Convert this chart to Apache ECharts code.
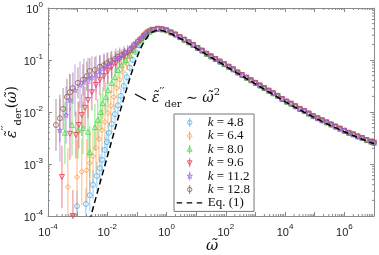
<!DOCTYPE html>
<html><head><meta charset="utf-8">
<script src="https://cdn.jsdelivr.net/npm/echarts@6/dist/echarts.min.js"></script>
<style>html,body{margin:0;padding:0;background:#fff}#c{width:379px;height:255px}</style>
</head><body><div id="c"></div>
<script>
// ---- data (log10 values) ----
const seriesNames = ['k = 4.8', 'k = 6.4', 'k = 8.0', 'k = 9.6', 'k = 11.2', 'k = 12.8'];
const eqName = 'Eq. (1)';

const wK48 = [-3.02,-2.72,-2.59,-2.48,-2.35,-2.25,-2.18,-2.08,-2.01,-1.95,-1.85,-1.74,-1.64,-1.54,-1.44,-1.34,-1.24,-1.14,-1.04,-0.94,-0.84,-0.74,-0.64,-0.54];
const eK48 = [-3.81,-3.77,-3.6,-3.4,-3.23,-3.08,-2.92,-2.73,-2.58,-2.4,-2.23,-2.04,-1.87,-1.69,-1.5,-1.33,-1.15,-1.0,-0.85,-0.72,-0.6,-0.52,-0.46,-0.42];
const dK48 = [0.3,0.3,0.3,0.28,0.28,0.26,0.25,0.25,0.22,0.2,0.2,0.18,0.16,0.14,0.12,0.1,0.08,0.06,0.05,0.04,0.03,0.02,0.02,0.02];

const wK64 = [-3.33,-3.02,-2.86,-2.69,-2.59,-2.48,-2.38,-2.28,-2.18,-2.08,-1.98,-1.88,-1.78,-1.68,-1.58,-1.47,-1.34,-1.24,-1.14,-1.04,-0.94,-0.84,-0.74,-0.64,-0.54];
const eK64 = [-3.44,-3.25,-3.15,-3.12,-2.98,-2.85,-2.69,-2.52,-2.35,-2.19,-2.02,-1.88,-1.71,-1.54,-1.38,-1.23,-1.08,-0.94,-0.82,-0.72,-0.62,-0.55,-0.48,-0.44,-0.41];
const dK64 = [0.75,0.7,0.65,0.6,0.55,0.5,0.5,0.45,0.4,0.35,0.3,0.3,0.25,0.2,0.18,0.15,0.12,0.1,0.08,0.06,0.05,0.04,0.03,0.02,0.02];

const wK80 = [-3.43,-3.19,-2.99,-2.82,-2.65,-2.59,-2.42,-2.32,-2.22,-2.15,-2.05,-1.98,-1.85,-1.74,-1.64,-1.51,-1.37,-1.24,-1.10,-0.97,-0.84,-0.70,-0.57];
const eK80 = [-2.4,-2.25,-2.35,-2.31,-2.38,-2.77,-2.29,-2.15,-2.0,-1.83,-1.71,-1.58,-1.44,-1.33,-1.19,-1.1,-1.0,-0.9,-0.81,-0.71,-0.62,-0.54,-0.46];
const dK80 = [0.6,0.6,0.55,0.5,0.5,0.5,0.45,0.4,0.35,0.3,0.28,0.25,0.2,0.18,0.15,0.12,0.1,0.08,0.06,0.05,0.04,0.03,0.02];

const wK96 = [-3.53,-3.26,-3.16,-3.06,-2.96,-2.86,-2.75,-2.65,-2.52,-2.38,-2.25,-2.11,-1.98,-1.85,-1.71,-1.58,-1.44,-1.31,-1.17,-1.04,-0.90,-0.77,-0.63];
const eK96 = [-3.25,-2.42,-4.0,-2.44,-2.25,-2.06,-1.92,-1.77,-1.62,-1.48,-1.38,-1.31,-1.21,-1.13,-1.06,-0.98,-0.93,-0.86,-0.78,-0.70,-0.62,-0.54,-0.47];
const dK96 = [0.6,0.5,0.5,0.45,0.45,0.4,0.4,0.35,0.35,0.3,0.3,0.28,0.25,0.22,0.2,0.18,0.15,0.12,0.1,0.08,0.06,0.04,0.03];

const wK112 = [-3.60,-3.39,-3.26,-3.09,-2.92,-2.79,-2.65,-2.52,-2.38,-2.25,-2.11,-1.98,-1.85,-1.71,-1.58,-1.44,-1.31,-1.17,-1.04,-0.90,-0.77,-0.63];
const eK112 = [-2.35,-2.06,-1.77,-1.58,-1.48,-1.42,-1.35,-1.33,-1.27,-1.21,-1.15,-1.10,-1.04,-0.98,-0.94,-0.88,-0.83,-0.75,-0.67,-0.60,-0.52,-0.46];
const dK112 = [0.6,0.55,0.5,0.5,0.45,0.45,0.4,0.4,0.35,0.3,0.28,0.25,0.22,0.2,0.18,0.15,0.12,0.1,0.08,0.06,0.04,0.03];

const wK128 = [-3.73,-3.60,-3.49,-3.36,-3.26,-3.16,-2.99,-2.82,-2.69,-2.59,-2.42,-2.25,-2.11,-2.01,-1.88,-1.74,-1.64,-1.51,-1.41,-1.24,-1.10,-0.97,-0.84,-0.70,-0.57];
const eK128 = [-2.25,-2.12,-1.94,-1.71,-1.62,-1.54,-1.44,-1.38,-1.31,-1.21,-1.19,-1.13,-1.10,-1.06,-1.02,-0.98,-0.94,-0.90,-0.87,-0.81,-0.73,-0.65,-0.58,-0.50,-0.44];
const dK128 = [0.5,0.45,0.4,0.35,0.35,0.3,0.3,0.3,0.28,0.25,0.25,0.22,0.2,0.2,0.18,0.15,0.12,0.1,0.1,0.08,0.06,0.05,0.04,0.03,0.02];

// high-frequency part where all k collapse onto one curve
const wHigh = [-0.45,-0.3,-0.15,0,0.15,0.3,0.45,0.6,0.75,0.9,1.05,1.2,1.35,1.5,1.65,1.8,1.95,2.1,2.25,2.4,2.55,2.7,2.85,3.0,3.15,3.3,3.45,3.6,3.75,3.9,4.05,4.2,4.35,4.5,4.65,4.8,4.95,5.1,5.25,5.4,5.55,5.7,5.85,6.0,6.15,6.3,6.45,6.6,6.75,6.9,7.0];
const eHigh = [-0.42,-0.40,-0.41,-0.43,-0.47,-0.51,-0.56,-0.61,-0.66,-0.71,-0.77,-0.82,-0.88,-0.93,-0.98,-1.03,-1.08,-1.13,-1.18,-1.24,-1.29,-1.34,-1.39,-1.44,-1.49,-1.54,-1.59,-1.64,-1.69,-1.75,-1.80,-1.84,-1.89,-1.94,-1.98,-2.03,-2.08,-2.12,-2.16,-2.20,-2.24,-2.28,-2.32,-2.36,-2.40,-2.43,-2.47,-2.50,-2.54,-2.57,-2.59];

// Eq. (1)
const eqW = [-2.6,-2.4,-2.2,-2.0,-1.8,-1.6,-1.4,-1.2,-1.0,-0.9,-0.8,-0.7,-0.6,-0.5,-0.4,-0.3,-0.2,-0.1,0,0.2,0.4,0.6,0.8,1.0,1.25,1.5,1.75,2.0,2.5,3.0,3.5,4.0,4.5,5.0,5.5,6.0,6.5,7.0];
const eqE = [-4.1,-3.68,-3.27,-2.86,-2.45,-2.05,-1.66,-1.28,-0.95,-0.81,-0.69,-0.6,-0.52,-0.47,-0.44,-0.43,-0.43,-0.44,-0.46,-0.51,-0.57,-0.63,-0.7,-0.77,-0.86,-0.95,-1.03,-1.12,-1.29,-1.46,-1.63,-1.8,-1.96,-2.11,-2.25,-2.38,-2.5,-2.61];

const xTickExp = [-4,-2,0,2,4,6];
const yTickExp = [-4,-3,-2,-1,0];

// ---- styling ----
const colors = ['#55b0e6', '#ff9437', '#3fd83f', '#ee3550', '#9b6cec', '#8e5b4e'];
const symbols = ['circle', 'diamond', 'triangle', 'path://M0,0 L10,0 L5,9 Z',
  'path://M50,0 L61,35 L98,35 L68,57 L79,91 L50,70 L21,91 L32,57 L2,35 L39,35 Z', 'circle'];
const frame = 'M0,0 L0,0 M26,9 L26,9 ';
const bar = 'M13,0 L13,9 ';
const legendIcons = [
  'path://' + frame + bar + 'M15.2,4.5 A2.2,2.2 0 1 1 10.8,4.5 A2.2,2.2 0 1 1 15.2,4.5 Z',
  'path://' + frame + bar + 'M13,1.9 L15.6,4.5 L13,7.1 L10.4,4.5 Z',
  'path://' + frame + bar + 'M13,2.1 L15.4,6.4 L10.6,6.4 Z',
  'path://' + frame + bar + 'M13,6.9 L15.4,2.6 L10.6,2.6 Z',
  'path://' + frame + bar + 'M13,1.8 L13.7,3.7 L15.7,3.7 L14.1,4.9 L14.7,6.9 L13,5.7 L11.3,6.9 L11.9,4.9 L10.3,3.7 L12.3,3.7 Z',
  'path://' + frame + bar + 'M15.2,4.5 A2.2,2.2 0 1 1 10.8,4.5 A2.2,2.2 0 1 1 15.2,4.5 Z'
];
const eqIcon = 'path://' + frame + 'M0,4.5 L5.5,4.5 M10,4.5 L15.5,4.5 M20,4.5 L25.5,4.5';

const lows = [[wK48,eK48,dK48],[wK64,eK64,dK64],[wK80,eK80,dK80],[wK96,eK96,dK96],[wK112,eK112,dK112],[wK128,eK128,dK128]];
const p10 = v => Math.pow(10, v);

const series = [];
const drawOrder = [0,1,2,3,5,4];
drawOrder.forEach((i, n) => {
  const [w, e] = lows[i];
  const pts = w.map((x, j) => [p10(x), p10(e[j])]).concat(wHigh.map((x, j) => [p10(x), p10(eHigh[j])]));
  series.push({
    name: seriesNames[i], type: 'scatter', data: pts, symbol: symbols[i],
    symbolSize: 5, z: 3 + n * 0.01, silent: true,
    itemStyle: { color: 'rgba(255,255,255,0)', borderColor: colors[i], borderWidth: 1 }
  });
});
drawOrder.forEach(i => {
  const [w, e, d] = lows[i];
  const col = colors[i];
  series.push({
    name: seriesNames[i], type: 'custom', z: 2, silent: true, clip: true,
    data: w.map((x, j) => [p10(x), p10(e[j] - d[j]), p10(e[j] + d[j])]),
    encode: { x: 0, y: [1, 2] },
    renderItem: (params, api) => {
      const a = api.coord([api.value(0), api.value(1)]);
      const b = api.coord([api.value(0), api.value(2)]);
      return { type: 'line', shape: { x1: a[0], y1: a[1], x2: b[0], y2: b[1] },
        style: { stroke: col, lineWidth: 1.2, opacity: 0.55 } };
    }
  });
});
series.push({
  name: eqName, type: 'line', data: eqW.map((x, j) => [p10(x), p10(eqE[j])]),
  symbol: 'none', z: 6, silent: true,
  itemStyle: { color: '#000' },
  lineStyle: { color: '#000', width: 1.5, type: [6, 3.5] }
});

// minor log ticks
const minorX = [], minorY = [];
for (let n = -4; n < 7; n++) for (let m = 2; m <= 9; m++) minorX.push([m * p10(n), 0.01]);
for (let n = -4; n < 0; n++) for (let m = 2; m <= 9; m++) minorY.push([1, m * p10(n)]);
const tickCol = '#8a8a8a';
series.push({
  type: 'custom', silent: true, z: 1, data: minorX, encode: { x: 0, y: 1 },
  renderItem: (params, api) => {
    const b = api.coord([api.value(0), 1e-4]), t = api.coord([api.value(0), 1]);
    return { type: 'group', children: [
      { type: 'line', shape: { x1: b[0], y1: b[1], x2: b[0], y2: b[1] - 2 }, style: { stroke: tickCol, lineWidth: 1 } },
      { type: 'line', shape: { x1: t[0], y1: t[1], x2: t[0], y2: t[1] + 2 }, style: { stroke: tickCol, lineWidth: 1 } }
    ] };
  }
});
series.push({
  type: 'custom', silent: true, z: 1, data: minorY, encode: { x: 0, y: 1 },
  renderItem: (params, api) => {
    const l = api.coord([1e-4, api.value(1)]), r = api.coord([1e7, api.value(1)]);
    return { type: 'group', children: [
      { type: 'line', shape: { x1: l[0], y1: l[1], x2: l[0] + 2, y2: l[1] }, style: { stroke: tickCol, lineWidth: 1 } },
      { type: 'line', shape: { x1: r[0], y1: r[1], x2: r[0] - 2, y2: r[1] }, style: { stroke: tickCol, lineWidth: 1 } }
    ] };
  }
});

const labelRich = {
  b: { fontFamily: 'Liberation Sans', fontSize: 11, color: '#222', lineHeight: 15, verticalAlign: 'bottom' },
  s: { fontFamily: 'Liberation Sans', fontSize: 8, color: '#222', lineHeight: 9, verticalAlign: 'top' }
};
const expFmt = (list) => (v) => {
  const e = Math.round(Math.log10(v));
  return list.includes(e) ? '{b|10}{s|' + (e < 0 ? '-' : '') + Math.abs(e) + '}' : '';
};
const axisCommon = {
  type: 'log', logBase: 10, interval: 1,
  axisLine: { show: true, lineStyle: { color: '#8a8a8a', width: 1 } },
  axisTick: { show: true, inside: true, length: 4, lineStyle: { color: tickCol } },
  splitLine: { show: false }, minorTick: { show: false }
};

const legendData = seriesNames.map((n, i) => ({
  name: n, icon: legendIcons[i],
  itemStyle: { color: 'rgba(255,255,255,0)', borderColor: colors[i], borderWidth: 1 }
})).concat([{ name: eqName, icon: eqIcon,
  itemStyle: { color: 'rgba(255,255,255,0)', borderColor: '#000', borderWidth: 1.4 } }]);

const chart = echarts.init(document.getElementById('c'), null, { renderer: 'canvas' });
chart.setOption({
  animation: false,
  backgroundColor: '#fff',
  grid: { left: 48, right: 5, top: 8, bottom: 39, containLabel: false },
  xAxis: [
    Object.assign({}, axisCommon, { position: 'bottom', min: 1e-4, max: 1e7,
      axisLabel: { formatter: expFmt(xTickExp), margin: 7, rich: labelRich, showMinLabel: true, showMaxLabel: true } }),
    Object.assign({}, axisCommon, { position: 'top', min: 1e-4, max: 1e7, axisLabel: { show: false } })
  ],
  yAxis: [
    Object.assign({}, axisCommon, { position: 'left', min: 1e-4, max: 1,
      axisLabel: { formatter: expFmt(yTickExp), margin: 5, rich: labelRich } }),
    Object.assign({}, axisCommon, { position: 'right', min: 1e-4, max: 1, axisLabel: { show: false } })
  ],
  legend: {
    orient: 'vertical', left: 174, top: 114,
    data: legendData,
    itemWidth: 26, itemHeight: 9, itemGap: 0.4,
    padding: [2, 4, 2, 2],
    borderColor: '#777', borderWidth: 1, borderRadius: 0, backgroundColor: '#fff',
    selectedMode: false,
    textStyle: { fontFamily: 'Liberation Serif', fontSize: 13, color: '#111', lineHeight: 13,
      rich: { i: { fontFamily: 'Liberation Serif', fontStyle: 'italic', fontSize: 13, lineHeight: 13 },
              t: { fontFamily: 'Liberation Serif', fontSize: 13, lineHeight: 13 } } },
    formatter: n => n.startsWith('k') ? '{i|k}{t| = ' + n.slice(4) + '}' : '{t|' + n + '}'
  },
  graphic: [
    { type: 'text', x: 12, y: 112, rotation: Math.PI / 2, silent: true,
      style: { text: '{a|ε\u0303}{p|\u2032\u2032}{s|der}{c|(}{a|ω\u0303}{c|)}', align: 'center', verticalAlign: 'middle',
        rich: {
          a: { fontFamily: 'DejaVu Serif', fontStyle: 'italic', fontSize: 14, lineHeight: 22, verticalAlign: 'middle', fill: '#111' },
          c: { fontFamily: 'DejaVu Serif', fontSize: 14, lineHeight: 22, verticalAlign: 'middle', fill: '#111' },
          p: { fontFamily: 'DejaVu Serif', fontSize: 11, lineHeight: 14, verticalAlign: 'top', fill: '#111' },
          s: { fontFamily: 'DejaVu Serif', fontSize: 10, lineHeight: 12, verticalAlign: 'bottom', fill: '#111' }
        } } },
    { type: 'text', x: 212, y: 246, silent: true,
      style: { text: 'ω\u0303', align: 'center', verticalAlign: 'middle', fontFamily: 'DejaVu Serif', fontStyle: 'italic', fontSize: 15, fill: '#111' } },
    { type: 'line', silent: true, shape: { x1: 135, y1: 94, x2: 146, y2: 100 }, style: { stroke: '#000', lineWidth: 1.2 } },
    { type: 'text', x: 152, y: 98, silent: true,
      style: { text: '{a|ε\u0303}{p|\u2032\u2032}{s|der}{c| ∼ }{a|ω\u0303}{q|2}', align: 'left', verticalAlign: 'middle',
        rich: {
          a: { fontFamily: 'DejaVu Serif', fontStyle: 'italic', fontSize: 14, lineHeight: 22, verticalAlign: 'middle', fill: '#111' },
          c: { fontFamily: 'DejaVu Serif', fontSize: 14, lineHeight: 22, verticalAlign: 'middle', fill: '#111' },
          p: { fontFamily: 'DejaVu Serif', fontSize: 11, lineHeight: 14, verticalAlign: 'top', fill: '#111' },
          q: { fontFamily: 'DejaVu Serif', fontSize: 10, lineHeight: 14, verticalAlign: 'top', fill: '#111' },
          s: { fontFamily: 'DejaVu Serif', fontSize: 10, lineHeight: 12, verticalAlign: 'bottom', fill: '#111' }
        } } }
  ],
  series: series
});
</script>
</body></html>
